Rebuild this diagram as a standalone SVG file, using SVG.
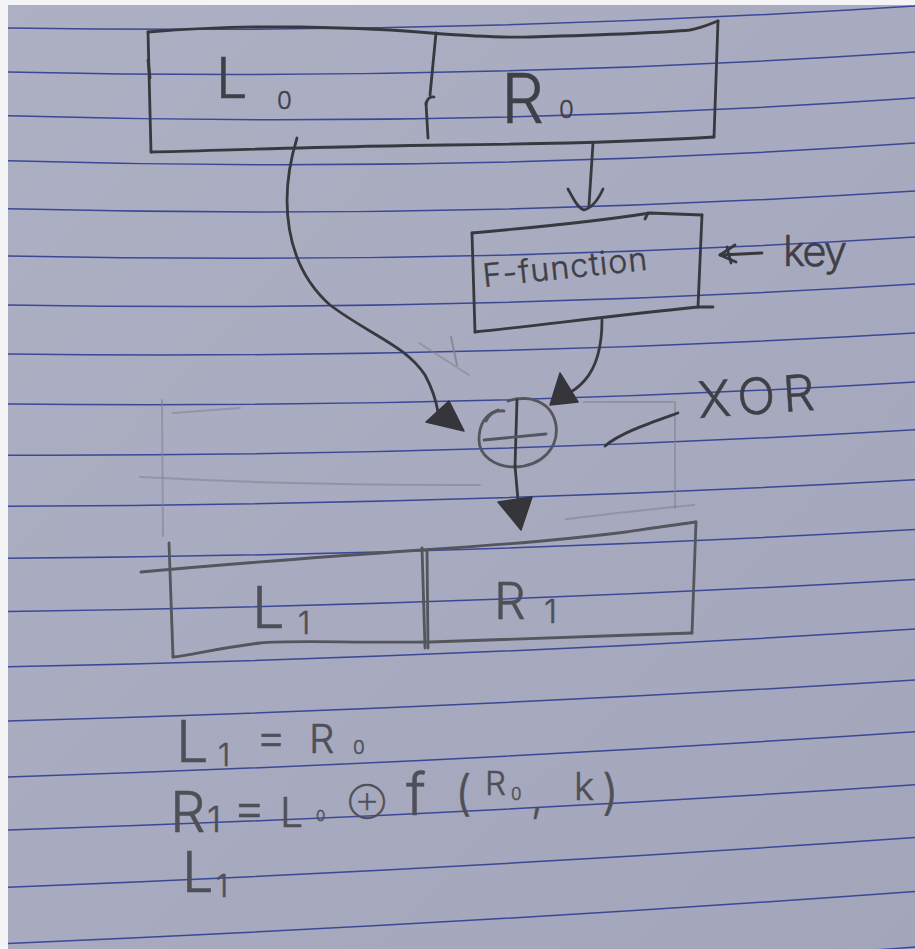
<svg xmlns="http://www.w3.org/2000/svg" width="915" height="949" viewBox="0 0 915 949">
  <defs>
    <linearGradient id="paperShade" x1="0" y1="0" x2="1" y2="1">
      <stop offset="0" stop-color="#adafc3"/>
      <stop offset="0.5" stop-color="#a8aabf"/>
      <stop offset="1" stop-color="#a3a5bb"/>
    </linearGradient>
    <style>
      .rule { fill: none; stroke: #3b4896; stroke-width: 1.5; }
      .pen { fill: none; stroke: #38383f; stroke-width: 2.8; stroke-linecap: round; stroke-linejoin: round; }
      .pen-soft { fill: none; stroke: #55555d; stroke-width: 2.8; stroke-linecap: round; stroke-linejoin: round; }
      .faint { fill: none; stroke: #80818f; stroke-width: 2; stroke-linecap: round; opacity: 0.55; }
      .head { fill: #35353b; stroke: #35353b; stroke-width: 1.5; stroke-linejoin: round; }
      .hand { font-family: Inter, Roboto, "Noto Sans", "DejaVu Sans", sans-serif; font-weight: 300; fill: #3f3f47; stroke: #3f3f47; stroke-width: 0.5; }
      .hand-soft { font-family: Inter, Roboto, "Noto Sans", "DejaVu Sans", sans-serif; font-weight: 300; fill: #4f4f57; stroke: #4f4f57; stroke-width: 0.5; }
    </style>
  </defs>

  <!-- photo border and notebook page -->
  <rect x="0" y="0" width="915" height="949" fill="#f4f4f6"/>
  <rect x="8" y="5" width="907" height="944" fill="url(#paperShade)"/>

  <!-- ruled lines (slightly bowed by the page curvature) -->
  <g id="ruling">
    <path class="rule" d="M8,28 Q461.5,35 915,5.9"/>
    <path class="rule" d="M8,71.9 Q461.5,82 915,52"/>
    <path class="rule" d="M8,115.8 Q461.5,129 915,98.1"/>
    <path class="rule" d="M8,160.8 Q461.5,174 915,143.1"/>
    <path class="rule" d="M8,208.8 Q461.5,220 915,191.1"/>
    <path class="rule" d="M8,255.9 Q461.5,265.5 915,237.1"/>
    <path class="rule" d="M8,305 Q461.5,312.5 915,284"/>
    <path class="rule" d="M8,354 Q461.5,359.5 915,333"/>
    <path class="rule" d="M8,404 Q461.5,409 915,381.9"/>
    <path class="rule" d="M8,455.2 Q461.5,456.5 915,429.7"/>
    <path class="rule" d="M8,506.2 Q461.5,505 915,479.7"/>
    <path class="rule" d="M8,558.3 Q461.5,555 915,529.6"/>
    <path class="rule" d="M8,611.5 Q461.5,605.5 915,579.4"/>
    <path class="rule" d="M8,666.7 Q461.5,657.9 915,629.1"/>
    <path class="rule" d="M8,720.9 Q461.5,708.5 915,680"/>
    <path class="rule" d="M8,777.1 Q461.5,762.4 915,731.7"/>
    <path class="rule" d="M8,830.1 Q461.5,815.4 915,784.7"/>
    <path class="rule" d="M8,887.3 Q461.5,869.4 915,837.5"/>
    <path class="rule" d="M8,943.4 Q461.5,924.4 915,891.4"/>
    <path class="rule" d="M8,1000 Q461.5,980.5 915,947"/>
  </g>

  <!-- half-erased sketch lines around the XOR -->
  <g id="erased-marks">
    <path class="faint" d="M162,400 L163,536"/>
    <path class="faint" d="M173,413 L240,408"/>
    <path class="faint" d="M140,477 C220,481 300,485 480,485"/>
    <path class="faint" d="M584,402 L675,402 L675,508"/>
    <path class="faint" d="M566,519 C610,514 650,509 694,505"/>
    <path class="faint" d="M419,343 L469,375"/>
    <path class="faint" d="M451,337 L457,365" style="opacity:0.8"/>
  </g>

  <!-- input block: L0 | R0 -->
  <g id="block-in">
    <path class="pen" d="M148,32 C200,28 240,26 300,27 C360,28 400,30 431,33 C470,36 500,38 530,37 C600,35 660,33 690,30 C702,28 710,24 718,21"/>
    <path class="pen" d="M718,21 L714,137"/>
    <path class="pen" d="M714,137 C650,141 540,144 446,145 C350,146 230,150 151,152"/>
    <path class="pen" d="M151,152 L148,32"/>
    <path class="pen" d="M148,60 L150,78"/>
    <path class="pen" d="M436,33 L430,95"/>
    <path class="pen" d="M426,104 C427,99 430,96 434,97"/>
    <path class="pen" d="M426,103 L428,138"/>
    <text class="hand" x="216" y="98" font-size="56">L<tspan x="277" y="109" font-size="24">0</tspan></text>
    <text class="hand" x="501" y="123" font-size="68">R<tspan x="559" y="118" font-size="24">0</tspan></text>
  </g>

  <!-- round function box -->
  <g id="f-function">
    <path class="pen" d="M472,233 C540,227 600,221 650,213 L702,215"/>
    <path class="pen" d="M645,219 L648,213"/>
    <path class="pen" d="M702,215 L698,307 L713,307"/>
    <path class="pen" d="M698,307 C620,315 540,325 475,332"/>
    <path class="pen" d="M472,233 L475,332"/>
    <text class="hand" x="484" y="287" font-size="32" textLength="165" lengthAdjust="spacing" transform="rotate(-6 484 287)">F-function</text>
  </g>

  <!-- subkey input -->
  <g id="key">
    <path class="pen" d="M762,253 L720,255"/>
    <path class="pen" d="M735,245 L720,255 L736,262"/>
    <path class="pen" d="M727,247 L731,263"/>
    <text class="hand" x="783" y="266" font-size="42" textLength="64" lengthAdjust="spacing">key</text>
  </g>

  <!-- XOR operator -->
  <g id="xor">
    <path class="pen-soft" d="M508,401 C530,394 552,402 556,425 C559,448 542,466 515,467 C494,467 479,455 479,440 C479,424 486,414 498,410"/>
    <path class="pen-soft" d="M486,421 C490,413 497,410 504,411"/>
    <path class="pen" d="M517,400 L515,466"/>
    <path class="pen-soft" d="M484,440 L546,434"/>
    <path class="pen" d="M678,413 C650,423 620,433 605,446"/>
    <text class="hand" x="699" y="418" font-size="50" textLength="117" lengthAdjust="spacing" transform="rotate(-4 699 418)">XOR</text>
  </g>

  <!-- output block: L1 | R1 -->
  <g id="block-out">
    <path class="pen-soft" d="M141,572 C250,562 350,555 422,550 C500,545 580,538 626,532 C660,527 680,524 696,522"/>
    <path class="pen-soft" d="M696,522 L692,633"/>
    <path class="pen-soft" d="M692,633 C600,636 500,640 430,642 C350,643 290,640 260,643 C220,648 190,655 173,657"/>
    <path class="pen-soft" d="M169,543 L173,657"/>
    <path class="pen-soft" d="M422,548 L425,648"/>
    <path class="pen-soft" d="M427,550 L428,648"/>
    <text class="hand-soft" x="252" y="628" font-size="58">L<tspan x="298" y="634" font-size="31">1</tspan></text>
    <text class="hand-soft" x="494" y="619" font-size="50">R<tspan x="544" y="623" font-size="33">1</tspan></text>
  </g>

  <!-- connectors -->
  <g id="connectors">
    <!-- L0 to XOR -->
    <path class="pen" d="M297,138 C278,200 285,265 330,305 C370,335 405,345 425,375 C432,388 436,400 438,412"/>
    <polygon class="head" points="426,422 449,401 464,431"/>
    <!-- R0 into the F-function -->
    <path class="pen" d="M593,143 L589,205"/>
    <path class="pen" d="M568,189 C574,200 578,208 584,210 C592,208 598,200 603,189"/>
    <!-- F-function output to XOR -->
    <path class="pen" d="M602,320 C602,345 598,365 585,380 C578,388 572,392 566,394"/>
    <polygon class="head" points="560,373 550,405 578,402"/>
    <!-- XOR to R1 -->
    <path class="pen" d="M515,466 L518,500"/>
    <polygon class="head" points="498,502 532,497 521,530"/>
  </g>

  <!-- round equations -->
  <g id="equations">
    <text class="hand-soft" x="176" y="762" font-size="58">L<tspan x="218" y="766" font-size="31">1</tspan><tspan x="256" y="753" font-size="46">=</tspan><tspan x="309" y="753" font-size="40">R</tspan><tspan x="353" y="754" font-size="19">0</tspan></text>
    <text class="hand-soft" x="170" y="832" font-size="56">R<tspan x="207" y="832" font-size="36">1</tspan><tspan x="233" y="825" font-size="50">=</tspan><tspan x="280" y="827" font-size="41">L</tspan><tspan x="316" y="821" font-size="15">0</tspan><tspan x="349" y="811" font-size="26">⊕</tspan><tspan x="406" y="815" font-size="58">f</tspan><tspan x="455" y="810" font-size="48">(</tspan><tspan x="485" y="795" font-size="33">R</tspan><tspan x="511" y="800" font-size="17">0</tspan><tspan x="531" y="812" font-size="42">,</tspan><tspan x="574" y="800" font-size="38">k</tspan><tspan x="602" y="809" font-size="48">)</tspan></text>
    <text class="hand-soft" x="182" y="892" font-size="56">L<tspan x="216" y="897" font-size="31">1</tspan></text>
  </g>
</svg>
